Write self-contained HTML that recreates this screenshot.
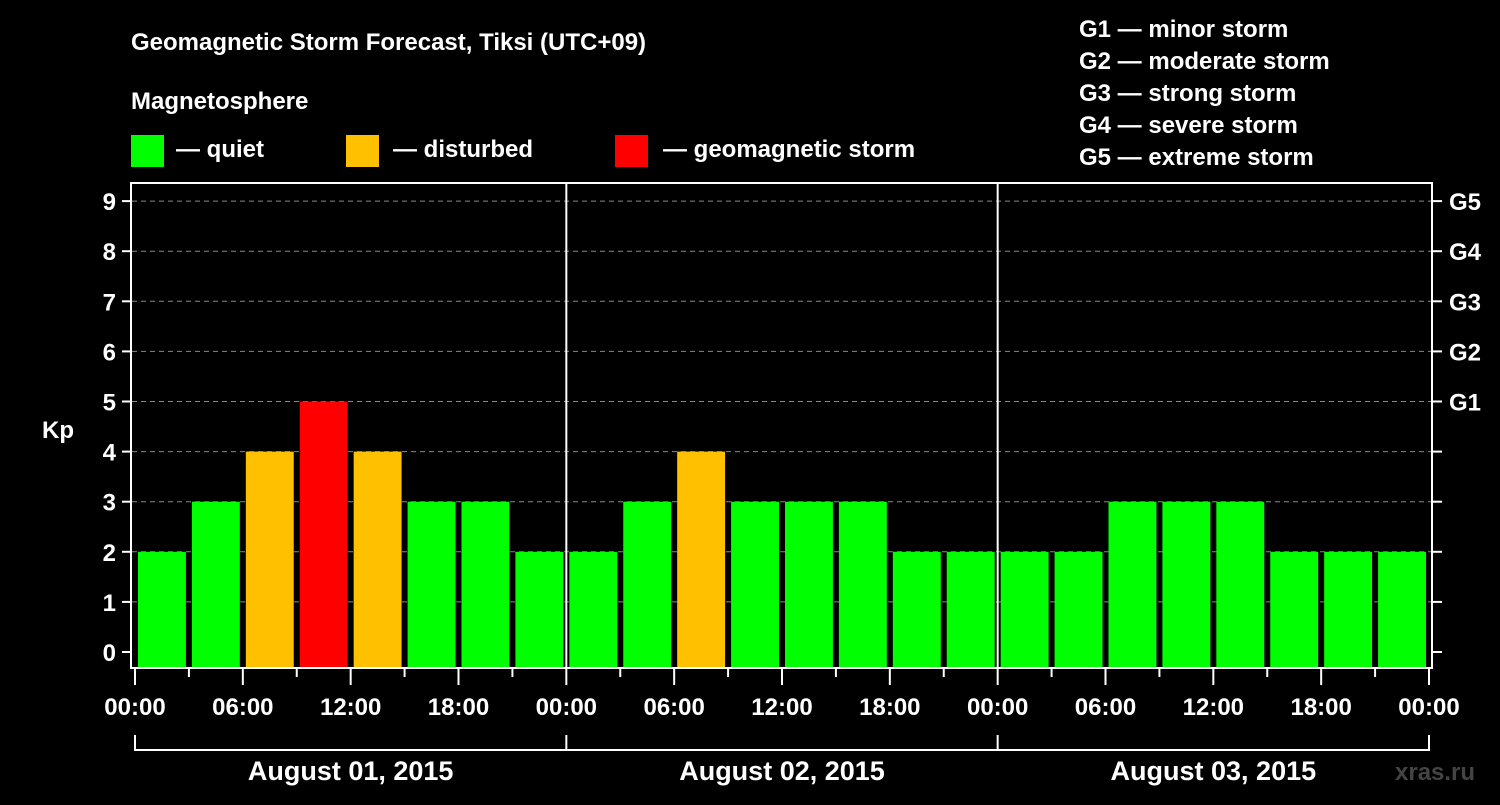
<!DOCTYPE html>
<html><head><meta charset="utf-8"><style>
body{margin:0;background:#000;width:1500px;height:800px;overflow:hidden}
svg{font-family:"Liberation Sans",sans-serif;font-weight:bold;fill:#fff}
</style></head><body>
<svg id="c" width="1500" height="800">
<text x="131" y="50" font-size="24">Geomagnetic Storm Forecast, Tiksi (UTC+09)</text>
<text x="131" y="109" font-size="24">Magnetosphere</text>
<rect x="131" y="135" width="33" height="32" fill="#00ff00"/>
<text x="176" y="157" font-size="24">— quiet</text>
<rect x="346" y="135" width="33" height="32" fill="#ffc000"/>
<text x="393" y="157" font-size="24">— disturbed</text>
<rect x="615" y="135" width="33" height="32" fill="#ff0000"/>
<text x="663" y="157" font-size="24">— geomagnetic storm</text>
<g font-size="24">
<text x="1079" y="37">G1 — minor storm</text>
<text x="1079" y="69">G2 — moderate storm</text>
<text x="1079" y="101">G3 — strong storm</text>
<text x="1079" y="133">G4 — severe storm</text>
<text x="1079" y="165">G5 — extreme storm</text>
</g>
<text x="42" y="438" font-size="24">Kp</text>
<text x="1395" y="780" font-size="24" fill="#444" style="fill:#444">xras.ru</text>
<g id="g"></g>
</svg>
<script>
const kpValues=[2,3,4,5,4,3,3,2, 2,3,4,3,3,3,2,2, 2,2,3,3,3,2,2,2];
const yTicks=[0,1,2,3,4,5,6,7,8,9];
const gLabels=[["G1",5],["G2",6],["G3",7],["G4",8],["G5",9]];
const hourLabels=["00:00","06:00","12:00","18:00","00:00","06:00","12:00","18:00","00:00","06:00","12:00","18:00","00:00"];
const dayLabels=["August 01, 2015","August 02, 2015","August 03, 2015"];
const L=132,R=1432,T=183,B=668,X0=135,X1=1429;
const y=v=>652-v*50.1;
const slot=(X1-X0)/kpValues.length;
const x=i=>X0+i*slot;
const g=document.getElementById('g');
const NS="http://www.w3.org/2000/svg";
function mk(t,a){const e=document.createElementNS(NS,t);for(const k in a)e.setAttribute(k,a[k]);g.appendChild(e);return e;}
yTicks.forEach(v=>{
 if(v>0){const l=mk('line',{x1:L,x2:R,y1:y(v),y2:y(v),stroke:'#888','stroke-dasharray':'5,4','stroke-width':1});
 
 }
 const t=mk('line',{x1:122,x2:L,y1:y(v),y2:y(v),stroke:'#fff','stroke-width':2});
 
 
 const tx=mk('text',{x:116,y:y(v)+9,'font-size':24,'text-anchor':'end'});tx.textContent=v;
 
 
 const rt=mk('line',{x1:R,x2:1442,y1:y(v),y2:y(v),stroke:'#fff','stroke-width':2});
 
 
});
gLabels.forEach(([s,v])=>{const t=mk('text',{x:1449,y:y(v)+9,'font-size':24});t.textContent=s;
 
 });
kpValues.forEach((v,i)=>{
 const c=v>=5?'#ff0000':v>=4?'#ffc000':'#00ff00';
 const r=mk('rect',{x:x(i)+3,y:y(v),width:slot-6,height:B-y(v),fill:c});
 
 
});
[8,16].forEach(i=>{const l=mk('line',{x1:x(i),x2:x(i),y1:T,y2:B,stroke:'#fff','stroke-width':2});
 
 });
const f=mk('rect',{x:L-1,y:T,width:R-L+1,height:B-T,fill:'none',stroke:'#fff','stroke-width':2});


for(let i=0;i<=kpValues.length;i++){
 const major=i%2==0;
 const t=mk('line',{x1:x(i),x2:x(i),y1:B,y2:major?685:677,stroke:'#fff','stroke-width':2});
 
 
}
hourLabels.forEach((s,i)=>{const t=mk('text',{x:x(i*2),y:715,'font-size':24,'text-anchor':'middle'});t.textContent=s;
 
 });
const br=mk('path',{d:`M${x(0)},735V750H${x(24)}V735M${x(8)},735V750M${x(16)},735V750`,fill:'none',stroke:'#fff','stroke-width':2});


dayLabels.forEach((s,i)=>{const t=mk('text',{x:(x(i*8)+x(i*8+8))/2,y:780,'font-size':27,'text-anchor':'middle'});t.textContent=s;
 
 });
</script>
</body></html>
